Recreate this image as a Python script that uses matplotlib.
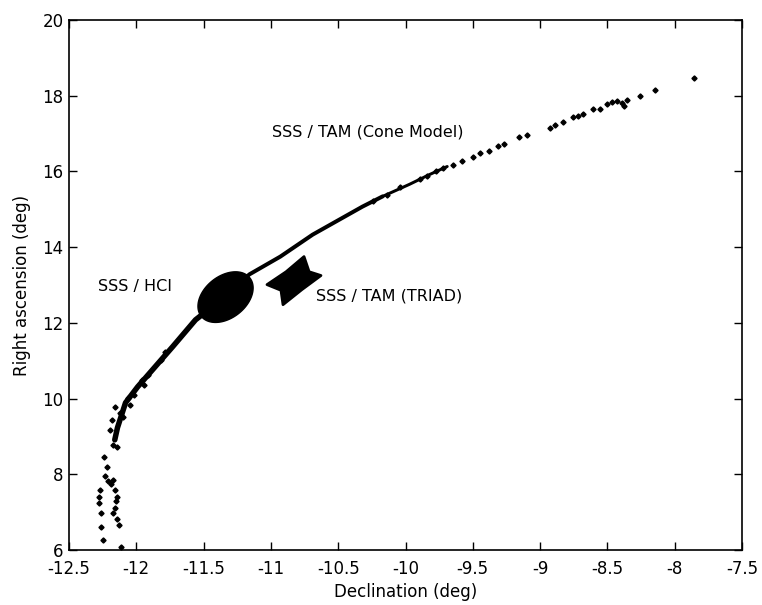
import numpy as np
import matplotlib
matplotlib.use("Agg")
import matplotlib.pyplot as plt
from matplotlib.patches import Polygon

# --- Data ---
# dense part of the SSS/TAM (cone model) track, drawn as a thick line
line_lo_x = [-12.16, -12.14, -12.08, -11.99, -11.86, -11.73, -11.56, -11.35]
line_lo_y = [8.91, 9.23, 9.89, 10.31, 10.84, 11.37, 12.08, 12.67]
line_hi_x = [-11.35, -11.16, -10.93, -10.69, -10.49, -10.32, -10.17]
line_hi_y = [12.67, 13.28, 13.75, 14.33, 14.73, 15.07, 15.34]
line_top_x = [-10.17, -9.97, -9.82, -9.69]
line_top_y = [15.34, 15.66, 15.92, 16.13]

# individual points of the track
dots_x = [-10.24, -10.14, -10.04, -9.89, -9.84, -9.77, -9.72, -9.65, -9.58,
          -9.50, -9.45, -9.38, -9.31, -9.27, -9.16, -9.10, -8.93, -8.89,
          -8.83, -8.756, -8.72, -8.68, -8.61, -8.555, -8.50, -8.466, -8.43,
          -8.39, -8.38, -8.355, -8.26, -8.15, -7.86,
          -12.195, -12.18, -12.12, -12.16, -12.10, -12.06, -12.02, -12.05,
          -11.96, -11.91, -11.94, -11.82, -11.79, -12.17, -12.14,
          -12.24, -12.22, -12.23, -12.21, -12.17, -12.27, -12.16, -12.28,
          -12.14, -12.28, -12.16, -12.26, -12.17, -12.14, -12.13, -12.26,
          -12.25, -12.11, -12.19, -12.15]
dots_y = [15.21, 15.39, 15.58, 15.79, 15.87, 16.00, 16.08, 16.18, 16.27,
          16.37, 16.48, 16.53, 16.66, 16.72, 16.90, 16.95, 17.16, 17.22,
          17.30, 17.43, 17.47, 17.51, 17.64, 17.64, 17.77, 17.83, 17.85,
          17.80, 17.72, 17.90, 17.98, 18.14, 18.46,
          9.17, 9.44, 9.62, 9.78, 9.52, 10.02, 10.10, 9.84,
          10.50, 10.63, 10.37, 11.03, 11.24, 8.78, 8.72,
          8.46, 8.20, 7.96, 7.83, 7.85, 7.59, 7.59, 7.40,
          7.40, 7.24, 7.11, 6.98, 6.98, 6.82, 6.66, 6.61,
          6.26, 6.08, 7.75, 7.30]

# SSS / HCI blob (ellipse): centre and semi-axis vectors (data units)
hci_center = (-11.337, 12.68)
hci_u = (0.181, 0.506)
hci_v = (-0.096, 0.437)

# SSS / TAM (TRIAD) blob outline (four-pointed star)
triad_x = [-10.754, -10.716, -10.628, -10.769, -10.910, -10.925, -11.029, -10.887]
triad_y = [13.75, 13.35, 13.25, 12.88, 12.48, 12.86, 13.01, 13.35]

labels = ["SSS / TAM (Cone Model)", "SSS / HCI", "SSS / TAM (TRIAD)"]
label_x = [-10.99, -12.285, -10.665]
label_y = [17.03, 12.96, 12.72]

xticks = [-12.5, -12, -11.5, -11, -10.5, -10, -9.5, -9, -8.5, -8, -7.5]
xticklabels = ["-12.5", "-12", "-11.5", "-11", "-10.5", "-10", "-9.5", "-9", "-8.5", "-8", "-7.5"]
yticks = [6, 8, 10, 12, 14, 16, 18, 20]

plt.rcParams['font.family'] = ['DejaVu Sans']

fig = plt.figure(figsize=(7.62, 6.05), dpi=100)
ax = fig.add_axes([69/762, 55/605, 673/762, 530/605])

px = 0.72  # points per pixel at 100 dpi
ax.plot(line_lo_x, line_lo_y, color='black', lw=5.5*px, solid_capstyle='round', zorder=3)
ax.plot(line_hi_x, line_hi_y, color='black', lw=4.0*px, solid_capstyle='round', zorder=3)
ax.plot(line_top_x, line_top_y, color='black', lw=3.0*px, solid_capstyle='round', zorder=3)
ax.plot(dots_x, dots_y, linestyle='none', marker='D', markersize=2.6,
        color='black', zorder=3)

t = np.linspace(0, 2*np.pi, 120)
ex = hci_center[0] + np.cos(t)*hci_u[0] + np.sin(t)*hci_v[0]
ey = hci_center[1] + np.cos(t)*hci_u[1] + np.sin(t)*hci_v[1]
ax.add_patch(Polygon(np.column_stack([ex, ey]), closed=True,
                     facecolor='black', edgecolor='black', zorder=4))
ax.add_patch(Polygon(np.column_stack([triad_x, triad_y]), closed=True,
                     facecolor='black', edgecolor='black', lw=2.0,
                     joinstyle='round', zorder=4))

for s, x, y in zip(labels, label_x, label_y):
    ax.text(x, y, s, fontsize=11.5, ha='left', va='center', color='black')

ax.set_xlim(-12.5, -7.5)
ax.set_ylim(6, 20)
ax.set_xticks(xticks)
ax.set_xticklabels(xticklabels)
ax.set_yticks(yticks)
ax.tick_params(direction='in', length=6*px*1.4, width=1.0, labelsize=12,
               top=True, right=True)
ax.tick_params(axis='x', pad=7)
ax.tick_params(axis='y', pad=4)
for sp in ax.spines.values():
    sp.set_linewidth(1.2)

ax.set_xlabel("Declination (deg)", fontsize=12, labelpad=4)
ax.set_ylabel("Right ascension (deg)", fontsize=12, labelpad=8)

fig.savefig("out.png", dpi=100)
